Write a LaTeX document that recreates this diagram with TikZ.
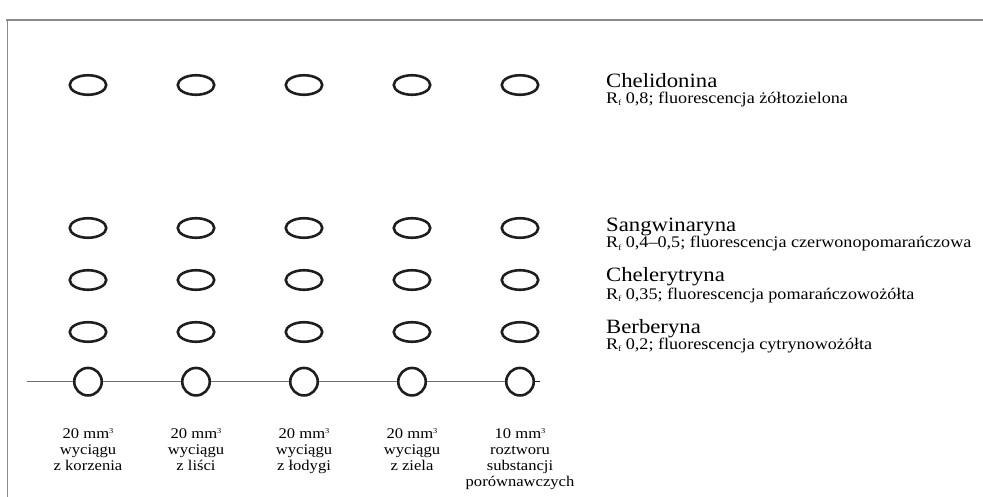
\documentclass[tikz,border=0pt]{standalone}
\usepackage{fontspec}
\setmainfont{Liberation Serif}[FakeStretch=1.12]
\usetikzlibrary{shapes.geometric}
\definecolor{ink}{HTML}{1E1E1E}
\definecolor{framegray}{HTML}{8A8A8A}
\definecolor{linegray}{HTML}{6E6E6E}
\newcommand{\Rfsub}{R\raisebox{-2.2pt}{\fontsize{8}{8}\selectfont f}}
\newcommand{\cubsup}{\raisebox{5.5pt}{\fontsize{7.5}{7.5}\selectfont 3}}
\tikzset{
  spot/.style={draw=ink, line width=2.6pt, ellipse, inner sep=0pt, minimum width=36.5pt, minimum height=19.5pt},
  start/.style={draw=ink, line width=2.6pt, circle, inner sep=0pt, minimum size=27.5pt},
  baseline/.style={draw=linegray, line width=1.2pt},
  head/.style={anchor=base west, inner sep=0pt, font=\fontsize{20.3}{22}\selectfont},
  sub/.style={anchor=base west, inner sep=0pt, font=\fontsize{16.2}{18}\selectfont},
  lab/.style={anchor=north, inner sep=0pt, align=center, font=\fontsize{14.8}{16}\selectfont},
  frame/.style={draw=framegray}
}
\begin{document}
\begin{tikzpicture}[x=1pt,y=-1pt]
\useasboundingbox (0,0) rectangle (983,497);
% frame
\coordinate (fa) at (7.5,497);
\coordinate (fb) at (7.5,20);
\coordinate (fc) at (983,20);
\draw[frame, line width=1pt] (fa) -- (fb);
\draw[frame, line width=2.2pt] (6.4,20) -- (fc);
% spots
\foreach \i/\x in {1/88,2/196,3/304,4/412,5/520}{
  \node[spot] (ch\i) at (\x,85) {};
  \node[spot] (sa\i) at (\x,228) {};
  \node[spot] (ce\i) at (\x,280) {};
  \node[spot] (be\i) at (\x,332) {};
  \node[start] (st\i) at (\x,381.7) {};
}
% start line
\coordinate (L) at (27,381.7);
\coordinate (R) at (540,381.7);
\draw[baseline] (L) -- (st1);
\draw[baseline] (st1) -- (st2);
\draw[baseline] (st2) -- (st3);
\draw[baseline] (st3) -- (st4);
\draw[baseline] (st4) -- (st5);
\draw[draw=ink, line width=1.2pt] (st5) -- (R);
% legend
\node[head] (t1) at (606,87.5) {Chelidonina};
\node[sub] (s1) at (606,103.5) {\Rfsub\ 0,8; fluorescencja żółtozielona};
\node[head] (t2) at (606,231.5) {Sangwinaryna};
\node[sub] (s2) at (606,248) {\Rfsub\ 0,4--0,5; fluorescencja czerwonopomarańczowa};
\node[head] (t3) at (606,282) {Chelerytryna};
\node[sub] (s3) at (606,299) {\Rfsub\ 0,35; fluorescencja pomarańczowożółta};
\node[head] (t4) at (606,333) {Berberyna};
\node[sub] (s4) at (606,349.5) {\Rfsub\ 0,2; fluorescencja cytrynowożółta};
% lane labels
\node[lab] (l1) at (88,428) {20 mm\cubsup\\wyciągu\\z korzenia};
\node[lab] (l2) at (196,428) {20 mm\cubsup\\wyciągu\\z liści};
\node[lab] (l3) at (304,428) {20 mm\cubsup\\wyciągu\\z łodygi};
\node[lab] (l4) at (412,428) {20 mm\cubsup\\wyciągu\\z ziela};
\node[lab] (l5) at (520,428) {10 mm\cubsup\\roztworu\\substancji\\porównawczych};
\end{tikzpicture}
\end{document}
